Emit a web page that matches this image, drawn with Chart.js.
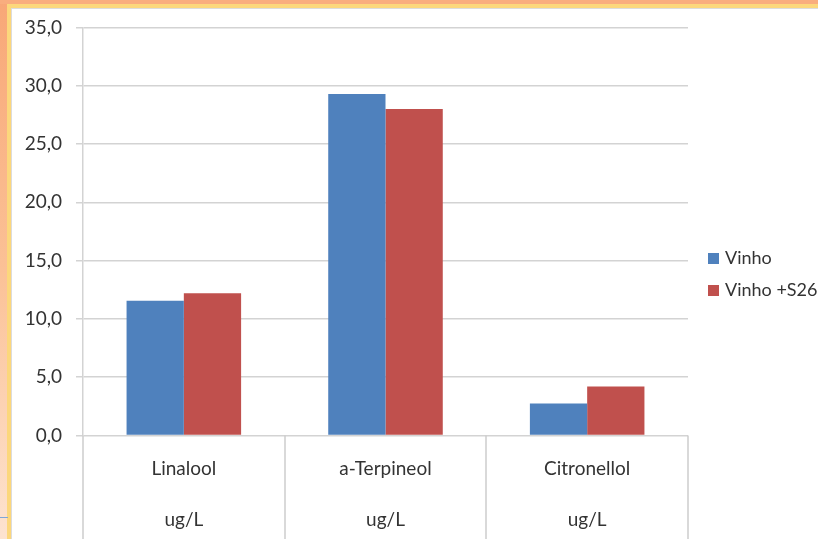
<!DOCTYPE html>
<html>
<head>
<meta charset="utf-8">
<script src="https://cdn.jsdelivr.net/npm/chart.js@4/dist/chart.umd.min.js"></script>
<style>
  html, body { margin: 0; padding: 0; }
  body {
    width: 818px; height: 539px; overflow: hidden; position: relative;
    background: linear-gradient(to bottom, #f8a777 0%, #fbc196 50%, #fde3d0 100%);
  }
  .topband { position: absolute; left: 0; top: 0; width: 818px; height: 4px; background: #f9ad7e; }
  .yellow { position: absolute; left: 7px; top: 4px; right: 0; bottom: 0; background: #fcd77c; }
  .sheet { position: absolute; left: 11px; top: 8px; right: 0; bottom: 0; background: #fff; border-left: 1px solid #dcdcdc; border-top: 1px solid #dcdcdc; }
  .mark { position: absolute; left: 0; top: 517px; width: 8px; height: 1px; background: #7fa6d6; }
  canvas { position: absolute; left: 0; top: 0; }
</style>
</head>
<body>
<div class="topband"></div>
<div class="yellow"></div>
<div class="sheet"></div>
<div class="mark"></div>
<canvas id="grafico" width="818" height="539"></canvas>
<script>
// Compostos e unidades
const compostos = ['Linalool', 'a-Terpineol', 'Citronellol'];
const unidades = ['ug/L', 'ug/L', 'ug/L'];

// Séries
const vinho = [11.55, 29.3, 2.75];
const vinhoS26 = [12.2, 28.0, 4.2];

const fonte = { family: 'Lato, "Open Sans", sans-serif', size: 19 };
const corTexto = '#333333';
const corGrade = '#d3d3d3';

// Linhas verticais que separam as categorias abaixo do eixo
const divisorias = {
  id: 'divisorias',
  afterDraw(chart) {
    const x = chart.scales.x;
    const ctx = chart.ctx;
    ctx.save();
    ctx.strokeStyle = '#cdcdcd';
    ctx.lineWidth = 1.5;
    for (let i = 0; i <= compostos.length; i++) {
      const px = Math.round(x.getPixelForValue(i - 0.5));
      ctx.beginPath();
      ctx.moveTo(px, chart.chartArea.bottom);
      ctx.lineTo(px, chart.height);
      ctx.stroke();
    }
    ctx.restore();
  }
};

// Legenda à direita
const legenda = {
  id: 'legenda',
  afterDraw(chart) {
    const ctx = chart.ctx;
    ctx.save();
    ctx.font = `18px ${fonte.family}`;
    ctx.textBaseline = 'middle';
    chart.data.datasets.forEach((ds, i) => {
      const y = 258.5 + i * 32;
      ctx.fillStyle = ds.backgroundColor;
      ctx.fillRect(708, y - 5.5, 11, 11);
      ctx.fillStyle = corTexto;
      ctx.fillText(ds.label, 725, y);
    });
    ctx.restore();
  }
};

new Chart(document.getElementById('grafico'), {
  type: 'bar',
  data: {
    labels: compostos.map((c, i) => [c, unidades[i]]),
    datasets: [
      { label: 'Vinho', data: vinho, backgroundColor: '#4f81bd', barPercentage: 1, categoryPercentage: 0.568 },
      { label: 'Vinho +S26', data: vinhoS26, backgroundColor: '#c0504d', barPercentage: 1, categoryPercentage: 0.568 }
    ]
  },
  options: {
    responsive: false,
    animation: false,
    devicePixelRatio: 1,
    layout: { padding: { top: 27.5, right: 130, left: 0, bottom: 0 } },
    plugins: {
      legend: { display: false },
      tooltip: { enabled: false }
    },
    scales: {
      x: {
        grid: { display: false },
        border: { display: false },
        ticks: {
          font: { ...fonte, lineHeight: 51 / 19 },
          color: corTexto,
          padding: 0,
          maxRotation: 0,
          autoSkip: false
        },
        afterFit: scale => { scale.height = 103.5; }
      },
      y: {
        min: 0,
        max: 35,
        grid: { color: corGrade, lineWidth: 1.5, tickLength: 7 },
        border: { color: corGrade, width: 1.5 },
        ticks: {
          stepSize: 5,
          font: fonte,
          color: corTexto,
          padding: 14,
          callback: v => v.toFixed(1).replace('.', ',')
        },
        afterFit: scale => { scale.width = 83; }
      }
    }
  },
  plugins: [divisorias, legenda]
});
</script>
</body>
</html>
